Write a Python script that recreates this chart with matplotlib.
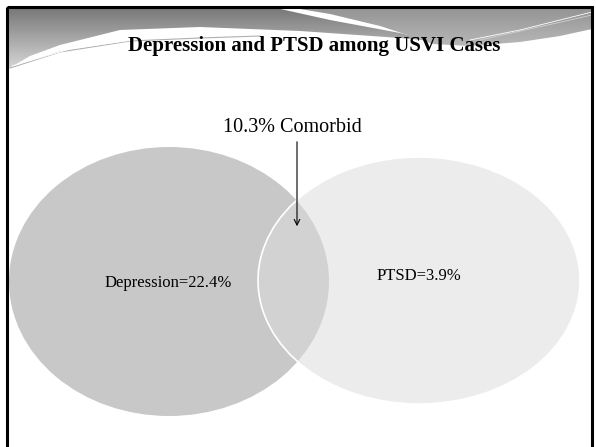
import matplotlib
matplotlib.use("Agg")
import matplotlib.pyplot as plt
from matplotlib.patches import Ellipse, Polygon, Rectangle
import numpy as np

# values shown on the slide
group_names = ["Depression", "PTSD"]
group_pcts = [22.4, 3.9]
comorbid_pct = 10.3
title = "Depression and PTSD among USVI Cases"

W, H = 596, 447
fig = plt.figure(figsize=(W / 100, H / 100), dpi=100)
ax = fig.add_axes([0, 0, 1, 1])
ax.set_xlim(0, W)
ax.set_ylim(H, 0)
ax.axis("off")

serif = ["Liberation Serif", "DejaVu Serif"]

# top swoosh: gradient gray clipped by two shapes
grad = np.linspace(0, 1, 100).reshape(-1, 1)
left_band = Polygon([(8, 8), (276, 8), (330, 20), (400, 33), (432, 41),
                     (400, 38), (300, 31), (200, 27), (120, 30), (60, 45),
                     (30, 56), (8, 69)], closed=True, facecolor="none", edgecolor="none")
right_band = Polygon([(294, 8), (592, 8), (592, 29), (560, 36), (520, 42),
                      (470, 46), (432, 44), (420, 39), (380, 26), (330, 14)],
                     closed=True, facecolor="none", edgecolor="none")
for band, lo, hi, bottom in [(left_band, 0.47, 0.84, 69), (right_band, 0.58, 0.72, 46)]:
    ax.add_patch(band)
    im = ax.imshow(grad * (hi - lo) + lo, cmap="gray", vmin=0, vmax=1,
                   extent=(8, 592, bottom, 8), aspect="auto", zorder=1)
    im.set_clip_path(band)

# thin decorative lines along the swoosh edge
ax.plot([10, 60, 130, 200, 260], [68, 52, 41, 38, 36], color="#b0b0b0", lw=0.8, zorder=2)
ax.plot([12, 70, 140, 210], [66, 49, 39, 35], color="white", lw=0.6, zorder=2)
ax.plot([470, 520, 560, 592], [40, 30, 20, 12], color="white", lw=0.6, zorder=2)
ax.plot([480, 530, 570, 592], [40, 29, 20, 15], color="#d0d0d0", lw=0.6, zorder=2)

# slide frame
ax.add_patch(Rectangle((7, 7), 585, 460, fill=False, edgecolor="black", lw=2.2, zorder=5))

ax.text(314, 46, title, ha="center", va="center", fontsize=15,
        fontweight="bold", family=serif, zorder=4)

# venn circles
ax.add_patch(Ellipse((169, 281.5), 320, 269, facecolor="#c8c8c8", edgecolor="none", zorder=2))
ax.add_patch(Ellipse((419, 280.5), 322, 247, facecolor="#dcdcdc", alpha=0.53,
                     edgecolor="none", zorder=3))
ax.add_patch(Ellipse((419, 280.5), 322, 247, facecolor="none", edgecolor="white",
                     lw=1.2, zorder=3))

ax.text(168, 283, f"{group_names[0]}={group_pcts[0]}%", ha="center", va="center",
        fontsize=12, family=serif, zorder=4)
ax.text(419, 276, f"{group_names[1]}={group_pcts[1]}%", ha="center", va="center",
        fontsize=12, family=serif, zorder=4)

ax.text(292, 128, f"{comorbid_pct}% Comorbid", ha="center", va="center",
        fontsize=14.5, family=serif, zorder=4)
ax.annotate("", xy=(297, 229), xytext=(297, 139),
            arrowprops=dict(arrowstyle="->", color="black", lw=0.8), zorder=4)

fig.savefig("out.png", dpi=100)
